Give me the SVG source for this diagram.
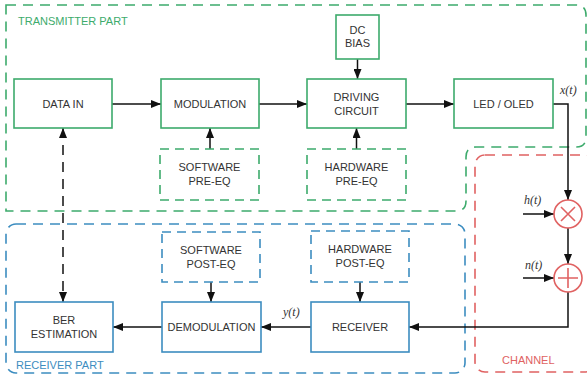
<svg xmlns="http://www.w3.org/2000/svg" width="587" height="382" viewBox="0 0 587 382">
<style>
.bg{fill:#fff}
.g{fill:#fff;stroke:#3dab6c;stroke-width:1.6}
.gd{fill:#fff;stroke:#3dab6c;stroke-width:1.6;stroke-dasharray:9,6}
.b{fill:#fff;stroke:#3c8dc0;stroke-width:1.6}
.bd{fill:#fff;stroke:#3c8dc0;stroke-width:1.6;stroke-dasharray:9,6}
.reg-g{fill:none;stroke:#3dab6c;stroke-width:1.6;stroke-dasharray:10,7}
.reg-b{fill:none;stroke:#3c8dc0;stroke-width:1.6;stroke-dasharray:10,7}
.reg-r{fill:none;stroke:#e06262;stroke-width:1.6;stroke-dasharray:10,7}
.t{font-family:"Liberation Sans",Arial,sans-serif;font-size:11px;fill:#333;text-anchor:middle}
.lab{font-family:"Liberation Sans",Arial,sans-serif;font-size:11px}
.it{font-family:"Liberation Serif","Times New Roman",serif;font-style:italic;font-size:12px;fill:#333}
.c{fill:none;stroke:#111;stroke-width:1.5}
.cd{fill:none;stroke:#111;stroke-width:1.5;stroke-dasharray:10,7}
.op{fill:#fff;stroke:#e06262;stroke-width:1.6}
.opl{stroke:#e06262;stroke-width:1.6;fill:none}
</style>
<defs>
<marker id="ah" markerWidth="10" markerHeight="8" refX="10" refY="4" orient="auto-start-reverse" markerUnits="userSpaceOnUse">
<path d="M0,0 L10,4 L0,8 Z" fill="#111"/>
</marker>
</defs>
<rect class="bg" x="0" y="0" width="587" height="382"/>

<g id="regions">
<path class="reg-g" d="M6,5 H576 Q586,5 586,15 V137 Q586,147 576,147 H476 Q466,147 466,157 V201 Q466,211 456,211 H6 Z"/>
<rect class="reg-b" x="6" y="224" width="459" height="149" rx="10"/>
<rect class="reg-r" x="475" y="155" width="120" height="217" rx="10"/>
<text class="lab" x="18" y="25" fill="#3dab6c">TRANSMITTER PART</text>
<text class="lab" x="16" y="369" fill="#3c8dc0">RECEIVER PART</text>
<text class="lab" x="502" y="364" fill="#e06262">CHANNEL</text>
</g>

<g id="connectors">
<path class="c" d="M112,104 H161" marker-end="url(#ah)"/>
<path class="c" d="M259,104 H307" marker-end="url(#ah)"/>
<path class="c" d="M406,104 H454" marker-end="url(#ah)"/>
<path class="c" d="M357.5,59 V79" marker-end="url(#ah)"/>
<path class="c" d="M210,149 V128" marker-end="url(#ah)"/>
<path class="c" d="M356.5,149 V128" marker-end="url(#ah)"/>
<path class="c" d="M553,104 H568 V200" marker-end="url(#ah)"/>
<path class="c" d="M523,214 H554" marker-end="url(#ah)"/>
<path class="c" d="M568,228 V264" marker-end="url(#ah)"/>
<path class="c" d="M523,278 H554" marker-end="url(#ah)"/>
<path class="c" d="M568,292 V327 H409" marker-end="url(#ah)"/>
<path class="c" d="M360,282 V302" marker-end="url(#ah)"/>
<path class="c" d="M211,282 V302" marker-end="url(#ah)"/>
<path class="c" d="M311,327 H261" marker-end="url(#ah)"/>
<path class="c" d="M162,327 H113" marker-end="url(#ah)"/>
<path class="cd" d="M63,128 V302" marker-start="url(#ah)" marker-end="url(#ah)"/>
<text class="it" x="560" y="94">x(t)</text>
<text class="it" x="524" y="204">h(t)</text>
<text class="it" x="525" y="269">n(t)</text>
<text class="it" x="283" y="316">y(t)</text>
</g>

<g id="data-in"><rect class="g" x="14" y="79" width="98" height="49"/><text class="t" x="63" y="108">DATA IN</text></g>
<g id="modulation"><rect class="g" x="161" y="79" width="98" height="49"/><text class="t" x="210" y="108">MODULATION</text></g>
<g id="sw-pre-eq"><rect class="gd" x="160" y="149" width="99" height="51"/><text class="t" x="209.5" y="171">SOFTWARE</text><text class="t" x="209.5" y="185">PRE-EQ</text></g>
<g id="dc-bias"><rect class="g" x="336" y="15" width="43" height="44"/><text class="t" x="357.5" y="34">DC</text><text class="t" x="357.5" y="47">BIAS</text></g>
<g id="driving"><rect class="g" x="307" y="79" width="99" height="49"/><text class="t" x="356.5" y="101">DRIVING</text><text class="t" x="356.5" y="115">CIRCUIT</text></g>
<g id="hw-pre-eq"><rect class="gd" x="307" y="149" width="99" height="51"/><text class="t" x="356.5" y="171">HARDWARE</text><text class="t" x="356.5" y="185">PRE-EQ</text></g>
<g id="led"><rect class="g" x="454" y="79" width="99" height="49"/><text class="t" x="503.5" y="108">LED / OLED</text></g>

<g id="mult"><circle class="op" cx="568" cy="214" r="14"/><path class="opl" d="M561,207 L575,221 M575,207 L561,221"/></g>
<g id="add"><circle class="op" cx="568" cy="278" r="14"/><path class="opl" d="M558,278 H578 M568,268 V288"/></g>

<g id="hw-post-eq"><rect class="bd" x="311" y="231" width="98" height="51"/><text class="t" x="360" y="253">HARDWARE</text><text class="t" x="360" y="267">POST-EQ</text></g>
<g id="receiver"><rect class="b" x="311" y="302" width="98" height="50"/><text class="t" x="360" y="331">RECEIVER</text></g>
<g id="sw-post-eq"><rect class="bd" x="162" y="232" width="98" height="50"/><text class="t" x="211" y="254">SOFTWARE</text><text class="t" x="211" y="268">POST-EQ</text></g>
<g id="demod"><rect class="b" x="162" y="302" width="99" height="50"/><text class="t" x="211.5" y="331">DEMODULATION</text></g>
<g id="ber"><rect class="b" x="15" y="302" width="98" height="50"/><text class="t" x="64" y="324">BER</text><text class="t" x="64" y="338">ESTIMATION</text></g>
</svg>
